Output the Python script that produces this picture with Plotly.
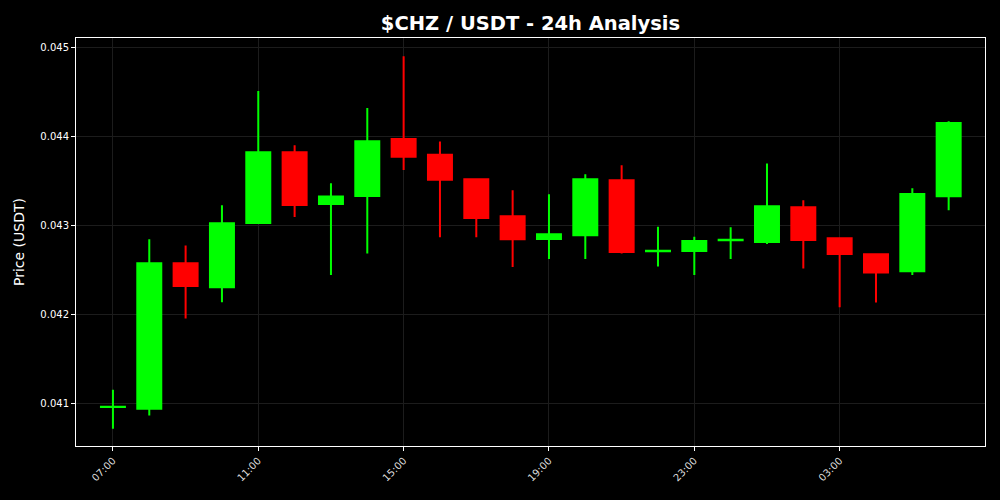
import plotly.graph_objects as go
import pandas as pd

times = pd.date_range("2024-01-01 07:00", periods=24, freq="h")
opens = [0.040966, 0.040947, 0.042580, 0.042313, 0.043034, 0.043829, 0.043248, 0.043338,
         0.043976, 0.043799, 0.043525, 0.043109, 0.042854, 0.042895, 0.043514, 0.042715,
         0.042719, 0.042839, 0.042820, 0.043210, 0.042861, 0.042681, 0.042490, 0.043334]
highs = [0.041161, 0.042850, 0.042782, 0.043233, 0.044516, 0.043908, 0.043480, 0.044325,
         0.044906, 0.043949, 0.043533, 0.043402, 0.043356, 0.043582, 0.043683, 0.042992,
         0.042880, 0.042985, 0.043702, 0.043289, 0.042869, 0.042692, 0.043424, 0.044178]
lows = [0.040722, 0.040872, 0.041961, 0.042144, 0.043030, 0.043101, 0.042448, 0.042692,
        0.043630, 0.042872, 0.042872, 0.042538, 0.042629, 0.042629, 0.042692, 0.042546,
        0.042448, 0.042629, 0.042797, 0.042523, 0.042088, 0.042141, 0.042448, 0.043176]
closes = [0.040970, 0.042580, 0.042325, 0.043030, 0.043829, 0.043236, 0.043330, 0.043953,
          0.043777, 0.043518, 0.043090, 0.042850, 0.042906, 0.043525, 0.042707, 0.042722,
          0.042831, 0.042846, 0.043221, 0.042842, 0.042685, 0.042478, 0.043360, 0.044156]
y_ticks = [0.041, 0.042, 0.043, 0.044, 0.045]

GREEN = "#00ff00"
RED = "#ff0000"

fig = go.Figure(go.Candlestick(
    x=times, open=opens, high=highs, low=lows, close=closes,
    increasing=dict(line=dict(color=GREEN, width=2), fillcolor=GREEN),
    decreasing=dict(line=dict(color=RED, width=2), fillcolor=RED),
    whiskerwidth=0,
    showlegend=False,
))

font_family = "DejaVu Sans"
fig.update_layout(
    width=1000, height=500,
    paper_bgcolor="black", plot_bgcolor="black",
    margin=dict(l=76, r=15, t=38, b=54),
    font=dict(family=font_family, color="white", size=10),
    title=dict(text="<b>$CHZ / USDT - 24h Analysis</b>", x=0.5305, xanchor="center",
               y=0.954, yanchor="middle", font=dict(size=19.5, color="white", family=font_family)),
    boxgap=0.34, boxgroupgap=0,
)
fig.update_xaxes(
    type="date",
    range=[pd.Timestamp("2024-01-01 05:59"), pd.Timestamp("2024-01-02 07:00")],
    tickvals=[t for t in times if (t.hour - 7) % 4 == 0],
    tickformat="%H:%M", tickangle=-45,
    showgrid=True, gridcolor="#1c1c1c", gridwidth=1,
    showline=True, linecolor="white", linewidth=1, mirror=True,
    ticks="outside", tickcolor="white", ticklen=4,
    tickfont=dict(size=10, color="#dddddd"),
    rangeslider=dict(visible=False),
    zeroline=False,
)
fig.update_yaxes(
    range=[0.040528, 0.045112],
    tickvals=y_ticks, ticktext=[f"{v:.3f}" for v in y_ticks],
    showgrid=True, gridcolor="#1c1c1c", gridwidth=1,
    showline=True, linecolor="white", linewidth=1, mirror=True,
    ticks="outside", tickcolor="white", ticklen=4,
    tickfont=dict(size=10, color="white"),
    title=dict(text="Price (USDT)", font=dict(size=14, color="white"), standoff=12),
    zeroline=False,
)

fig.write_html("out.html", config={"displayModeBar": False},
               post_script="document.body.style.margin='0';document.body.style.background='black';")
